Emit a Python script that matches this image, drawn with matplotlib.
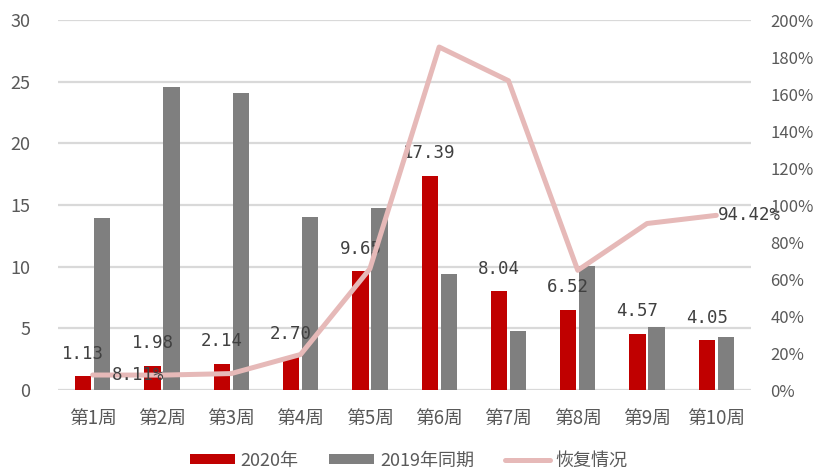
import numpy as np
import matplotlib
matplotlib.use("Agg")
import matplotlib.pyplot as plt
from matplotlib.ticker import FuncFormatter, MultipleLocator

plt.rcParams['font.family'] = ['Noto Sans CJK SC', 'DejaVu Sans']

weeks = ['第1周', '第2周', '第3周', '第4周', '第5周',
         '第6周', '第7周', '第8周', '第9周', '第10周']
y2020 = [1.13, 1.98, 2.14, 2.70, 9.65, 17.39, 8.04, 6.52, 4.57, 4.05]
y2019 = [13.93, 24.6, 24.06, 14.03, 14.73, 9.38, 4.81, 10.08, 5.08, 4.29]
recovery = [8.11, 8.05, 8.89, 19.2, 65.5, 185.4, 167.2, 64.7, 90.0, 94.42]

RED = '#C00000'
GRAY = '#7F7F7F'
PINK = '#E6B9B8'
TXT = '#595959'
LBL = '#404040'
GRID = '#D9D9D9'
LBL_FONT = ['DejaVu Sans Mono']

fig = plt.figure(figsize=(8.14, 4.70), dpi=100)
ax = fig.add_axes([0.0713, 0.1702, 0.8513, 0.7872])
ax2 = ax.twinx()

x = np.arange(len(weeks))
w = 0.235
off = 0.137
ax.bar(x - off, y2020, w, color=RED, label='2020年', zorder=2)
ax.bar(x + off, y2019, w, color=GRAY, label='2019年同期', zorder=2)

# value labels over the 2020 bars
for xi, v in zip(x, y2020):
    ax.annotate(f'{v:.2f}', (xi - off, v), xytext=(0, 16), textcoords='offset points',
                ha='center', va='center', fontsize=12.5, color=LBL, family=LBL_FONT)

ax.set_xlim(-0.5, len(weeks) - 0.5)
ax.set_ylim(0, 30)
ax.yaxis.set_major_locator(MultipleLocator(5))
ax.grid(axis='y', color=GRID, lw=1.6, zorder=0)
ax.set_axisbelow(True)
ax.set_xticks(x)
ax.set_xticklabels(weeks)
ax.tick_params(axis='x', length=0, pad=13, labelsize=13.5, labelcolor=TXT)
ax.tick_params(axis='y', length=0, pad=20, labelsize=13, labelcolor=TXT)

ax2.plot(x, recovery, color=PINK, lw=3.6, solid_capstyle='round',
         solid_joinstyle='round', label='恢复情况', zorder=3)
ax2.set_ylim(0, 200)
ax2.yaxis.set_major_locator(MultipleLocator(20))
ax2.yaxis.set_major_formatter(FuncFormatter(lambda v, p: f'{v:.0f}%'))
ax2.tick_params(axis='y', length=0, pad=14, labelsize=12, labelcolor=TXT)

ax2.annotate(f'{recovery[0]:.2f}%', (x[0], recovery[0]), xytext=(14, 0),
             textcoords='offset points', ha='left', va='center',
             fontsize=12.5, color=LBL, family=LBL_FONT)
ax2.annotate(f'{recovery[-1]:.2f}%', (x[-1], recovery[-1]), xytext=(1, 0),
             textcoords='offset points', ha='left', va='center',
             fontsize=12.5, color=LBL, family=LBL_FONT)

for a in (ax, ax2):
    for s in a.spines.values():
        s.set_visible(False)

h1, l1 = ax.get_legend_handles_labels()
h2, l2 = ax2.get_legend_handles_labels()
fig.legend(h1 + h2, l1 + l2, loc='center', bbox_to_anchor=(0.502, 0.02),
           ncol=3, frameon=False, fontsize=13, labelcolor=TXT,
           handlelength=2.5, handleheight=0.45, columnspacing=1.7, handletextpad=0.3)

fig.savefig('out.png', dpi=100)
